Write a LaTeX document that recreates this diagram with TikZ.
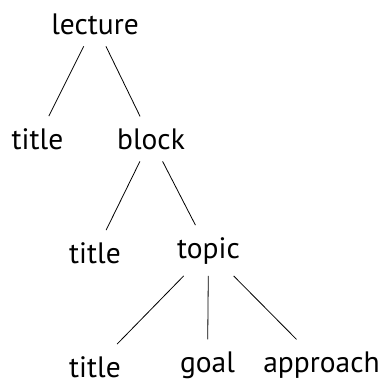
\documentclass[tikz,border=0pt]{standalone}
\usepackage{fontspec}
\setmainfont{PT Sans}
\begin{document}
\begin{tikzpicture}[x=1pt,y=1pt,
  word/.style={anchor=base, font=\fontsize{29.5}{32}\selectfont, inner xsep=2pt, inner ysep=12pt, outer sep=0pt},
  edge/.style={draw=black, line width=0.8pt}]
\useasboundingbox (0,0) rectangle (388,-380);
\node[word] (lecture) at (95,-34) {lecture};
\node[word] (title1) at (37.5,-149) {title};
\node[word] (block) at (151,-149) {block};
\node[word] (title2) at (95,-263) {title};
\node[word] (topic) at (208.5,-258) {topic};
\node[word] (title3) at (95,-377) {title};
\node[word] (goal) at (207.5,-372) {goal};
\node[word] (approach) at (321.5,-372) {approach};
\draw[edge] (lecture) -- (title1);
\draw[edge] (lecture) -- (block);
\draw[edge] (block) -- (title2);
\draw[edge] (block) -- (topic);
\draw[edge] (topic) -- (title3);
\draw[edge] (topic) -- (goal);
\draw[edge] (topic) -- (approach);
\end{tikzpicture}
\end{document}
